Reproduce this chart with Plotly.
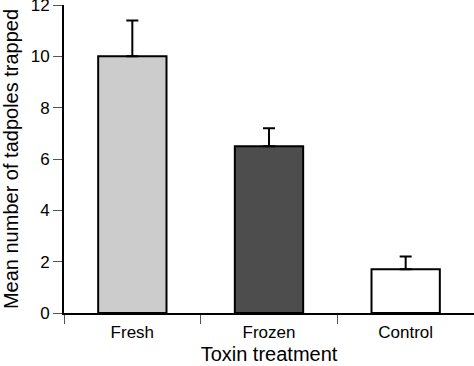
import plotly.graph_objects as go

categories = ["Fresh", "Frozen", "Control"]
mean_trapped = [10.0, 6.5, 1.7]
error_upper = [1.4, 0.7, 0.5]
bar_colors = ["#cccccc", "#4d4d4d", "#ffffff"]
y_ticks = [0, 2, 4, 6, 8, 10, 12]

font_family = "Liberation Sans, Arial, Helvetica, sans-serif"

fig = go.Figure()
fig.add_trace(go.Bar(
    x=categories,
    y=mean_trapped,
    width=0.5,
    marker=dict(color=bar_colors, line=dict(color="black", width=2)),
    error_y=dict(
        type="data",
        symmetric=False,
        array=error_upper,
        arrayminus=[0, 0, 0],
        color="black",
        thickness=2,
        width=6,
    ),
    showlegend=False,
))

fig.update_layout(
    width=474,
    height=366,
    margin=dict(l=64, r=0, t=5, b=53),
    paper_bgcolor="white",
    plot_bgcolor="white",
    font=dict(family=font_family, color="black", size=17),
    bargap=0.5,
)

fig.update_xaxes(
    type="category",
    range=[-0.5, 2.5],
    automargin=False,
    showline=True,
    linecolor="black",
    linewidth=1.5,
    ticks="outside",
    tickson="boundaries",
    ticklen=9,
    tickwidth=1,
    tickcolor="#555555",
    ticklabelstandoff=3,
    showgrid=False,
    tickfont=dict(size=17),
    title=dict(text="Toxin treatment", font=dict(size=20), standoff=6),
)

fig.update_yaxes(
    range=[0, 12],
    tickvals=y_ticks,
    automargin=False,
    ticklabeloverflow="allow",
    showline=True,
    linecolor="black",
    linewidth=2,
    ticks="outside",
    ticklen=9,
    tickwidth=1,
    tickcolor="#555555",
    showgrid=False,
    zeroline=False,
    tickfont=dict(size=17),
    title=dict(text="Mean number of tadpoles trapped", font=dict(size=20), standoff=10),
)

fig.write_html(
    "out.html",
    config={"displayModeBar": False},
    post_script="document.body.style.margin='0';document.body.style.overflow='hidden';",
)
